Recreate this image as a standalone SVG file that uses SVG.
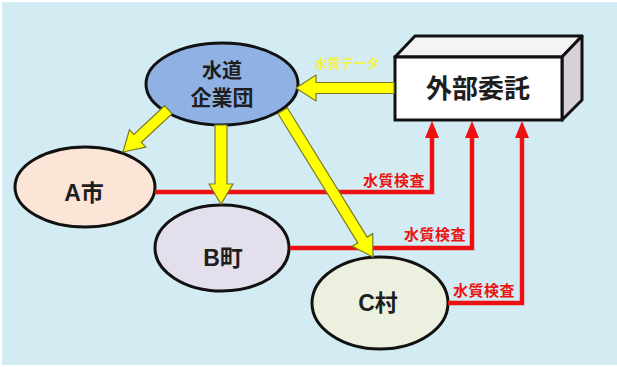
<svg xmlns="http://www.w3.org/2000/svg" width="617" height="367" viewBox="0 0 617 367">
<style>
.node{stroke:#111;stroke-width:3}
.lbl{font-family:"Liberation Sans","Noto Sans CJK JP",sans-serif;font-weight:bold;text-anchor:middle;fill:#1e1e1e}
.red{fill:none;stroke:#EE1111;stroke-width:4.5}
.redlbl{font-family:"Noto Sans CJK JP",sans-serif;font-weight:bold;font-size:15px;letter-spacing:0.5px;fill:#EE1111;text-anchor:end}
.ya{fill:#FFFF00;stroke:#7a7a2a;stroke-width:1.2;stroke-linejoin:miter}
</style>
<rect x="2" y="2" width="615" height="363" fill="#D3ECF3"/>

<g id="node-suido">
<ellipse class="node" cx="222" cy="84" rx="76" ry="41" fill="#8FB1E3"/>
<text class="lbl" x="222" y="78" font-size="20" fill="#1a2244">水道</text>
<text class="lbl" x="222" y="105" font-size="21" fill="#1a2244">企業団</text>
</g>

<g id="node-gaibu">
<polygon points="395,57 415,36 582,36 562,57" fill="#F4F4F4" stroke="#111" stroke-width="3" stroke-linejoin="round"/>
<polygon points="562,57 582,36 582,100 562,120" fill="#D9D1D9" stroke="#111" stroke-width="3" stroke-linejoin="round"/>
<rect x="395" y="57" width="167" height="63" fill="#FFFFFF" stroke="#111" stroke-width="3"/>
<text class="lbl" x="478" y="98" font-size="26">外部委託</text>
</g>

<g id="node-a">
<ellipse class="node" cx="85" cy="187" rx="70" ry="40" fill="#FBE5D6"/>
<text class="lbl" x="84" y="201" font-size="23">A市</text>
</g>

<g id="node-b">
<ellipse class="node" cx="222" cy="248" rx="67" ry="43" fill="#E4DFEC"/>
<text class="lbl" x="223" y="266" font-size="23">B町</text>
</g>

<g id="node-c">
<ellipse class="node" cx="380" cy="303" rx="68" ry="46" fill="#EBF1DE"/>
<text class="lbl" x="378" y="311" font-size="23">C村</text>
</g>

<g id="connectors">
<polyline class="red" points="155,192 432,192 432,138"/>
<path d="M425 138 L432 121 L439 138 Z" fill="#EE1111"/>
<polyline class="red" points="290,248 472,248 472,138"/>
<path d="M465 138 L472 121 L479 138 Z" fill="#EE1111"/>
<polyline class="red" points="448,303 522,303 522,138"/>
<path d="M515 138 L522 121 L529 138 Z" fill="#EE1111"/>
<text class="redlbl" x="425" y="186">水質検査</text>
<text class="redlbl" x="466" y="240">水質検査</text>
<text class="redlbl" x="515" y="296">水質検査</text>

<polygon class="ya" points="394,82.5 316,82.5 316,75 296,88 316,101 316,93.5 394,93.5"/>
<text x="347" y="68" font-family="Noto Sans CJK JP,sans-serif" font-weight="bold" font-size="13" fill="#F2F24A" text-anchor="middle">水質データ</text>
<polygon class="ya" points="215,125 215,184 209,184 221,204 233,184 227,184 227,125"/>
<polygon class="ya" transform="translate(123,152) rotate(137)" points="0,0 -20,-12 -20,-5.5 -62,-5.5 -62,5.5 -20,5.5 -20,12"/>
<polygon class="ya" transform="translate(373,257) rotate(58.3)" points="0,0 -20,-12 -20,-5.5 -172,-5.5 -172,5.5 -20,5.5 -20,12"/>
</g>
</svg>
